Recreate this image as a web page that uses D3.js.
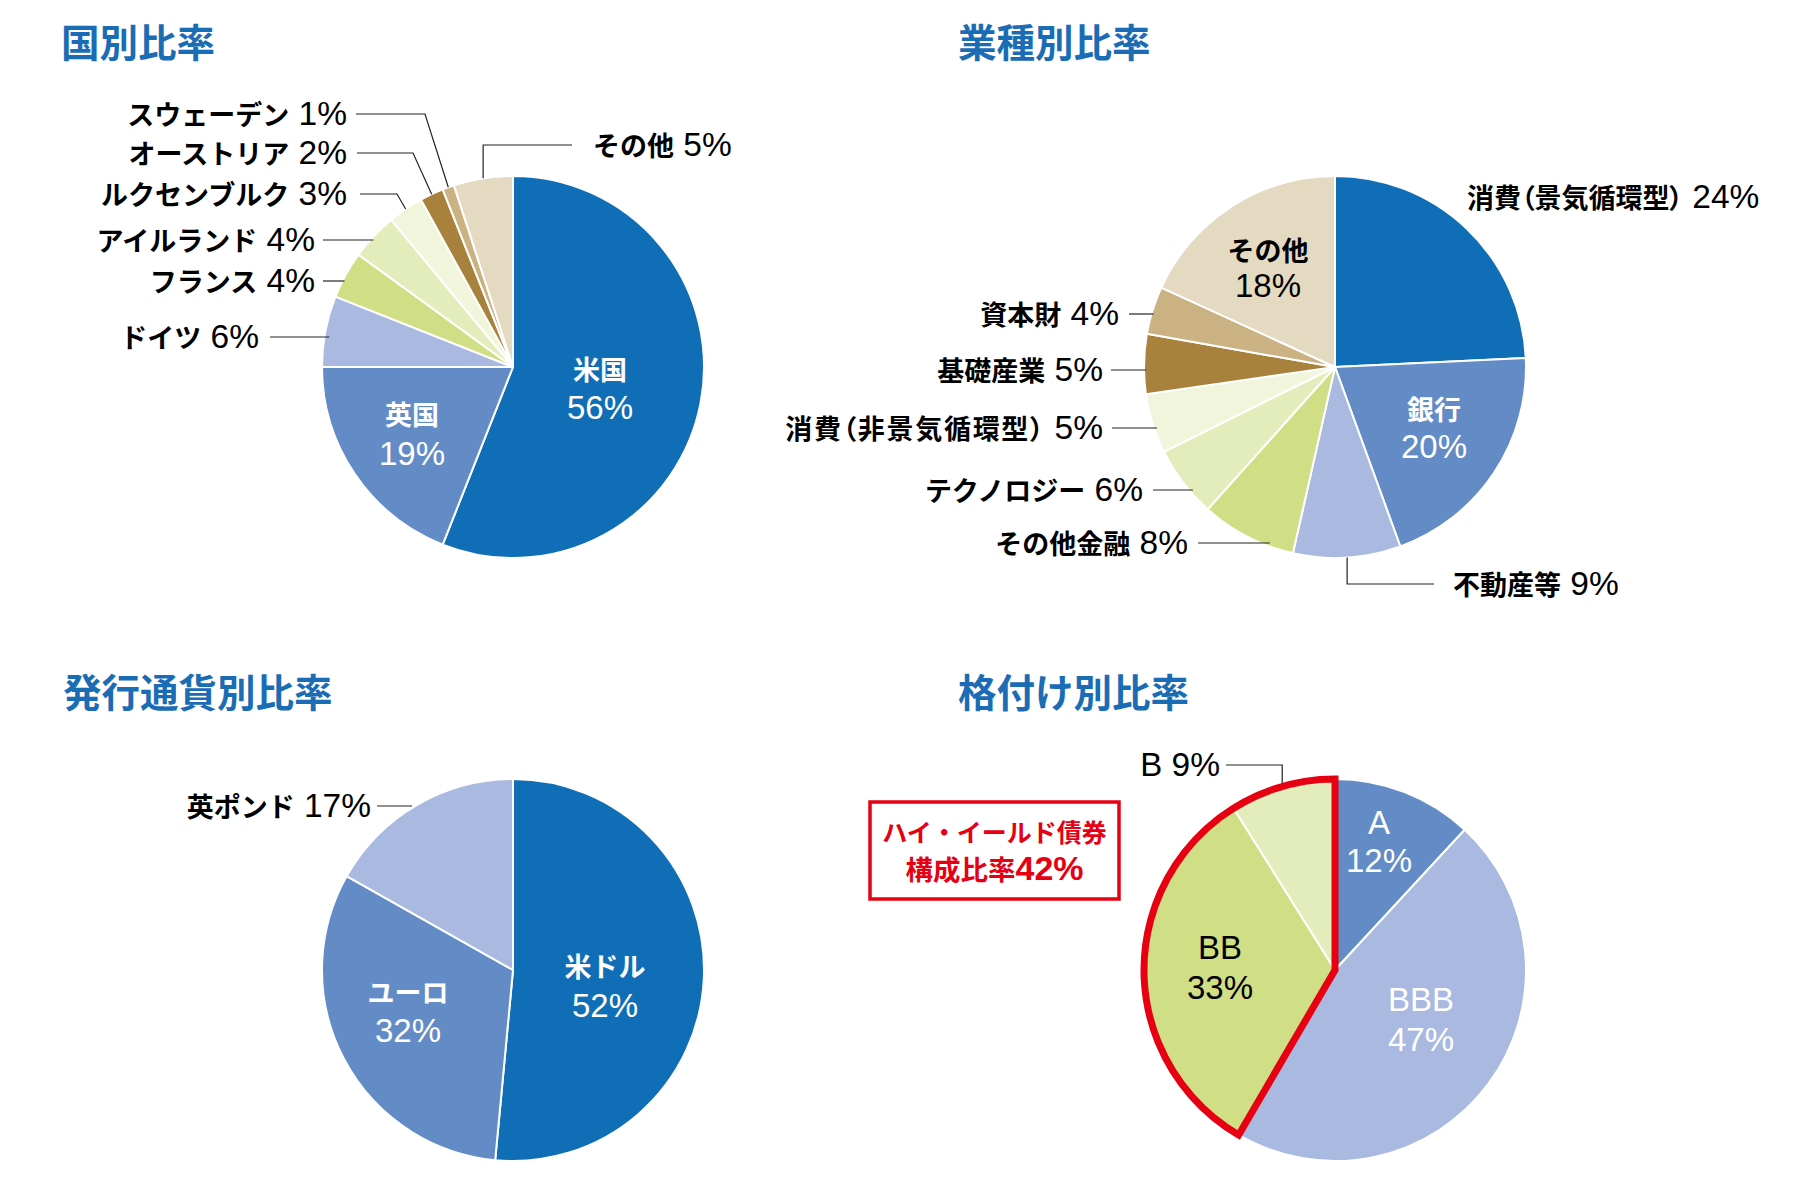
<!DOCTYPE html>
<html lang="ja">
<head>
<meta charset="utf-8">
<script src="https://cdn.jsdelivr.net/npm/d3@7"></script>
<style>
  body { margin: 0; background: #fff; }
  text { font-family: "Liberation Sans", "Noto Sans CJK JP", sans-serif; }
</style>
</head>
<body>
<svg id="chart"></svg>
<script>
// 国別比率
const countryNames = ['米国', '英国', 'ドイツ', 'フランス', 'アイルランド', 'ルクセンブルク', 'オーストリア', 'スウェーデン', 'その他']
const countryValues = [56, 19, 6, 4, 4, 3, 2, 1, 5]

// 業種別比率
const sectorNames = ['消費（景気循環型）', '銀行', '不動産等', 'その他金融', 'テクノロジー', '消費（非景気循環型）', '基礎産業', '資本財', 'その他']
const sectorValues = [24, 20, 9, 8, 6, 5, 5, 4, 18]

// 発行通貨別比率
const currencyNames = ['米ドル', 'ユーロ', '英ポンド']
const currencyValues = [52, 32, 17]

// 格付け別比率
const ratingNames = ['A', 'BBB', 'BB', 'B']
const ratingValues = [12, 47, 33, 9]
const highYieldRatings = ['BB', 'B']
const highYieldShare = 42

const titles = ['国別比率', '業種別比率', '発行通貨別比率', '格付け別比率']

const d3 = window.d3

let width = 1820
let height = 1182
let radius = 191

let blue = '#106eb6'
let midBlue = '#638cc7'
let lavender = '#a9b9e0'
let green = '#d0df85'
let lightGreen = '#e3edbb'
let paleGreen = '#f1f5dc'
let brown = '#a8823c'
let tan = '#cbb283'
let beige = '#e4d9c1'
let red = '#e60012'
let titleBlue = '#1a6db5'

let palette9 = [blue, midBlue, lavender, green, lightGreen, paleGreen, brown, tan, beige]

let svg = d3.select('#chart')
    .attr('width', width)
    .attr('height', height)

svg.append('rect')
    .attr('width', width)
    .attr('height', height)
    .attr('fill', '#fff')

let pie = d3.pie()
            .sort(null)
            .value(d => d.value)

let arc = d3.arc()
            .innerRadius(0)
            .outerRadius(radius)

let line = d3.line()

// label layout, relative to each pie centre
let pies = [
  {
    title: titles[0], titleX: 61, titleY: 57,
    cx: 513, cy: 367,
    names: countryNames, values: countryValues, colors: palette9,
    labels: [
      { i: 0, inside: true, dx: 87, dy: [2, 40], fill: '#fff' },
      { i: 1, inside: true, dx: -101, dy: [47, 86], fill: '#fff' },
      { i: 2, tx: -254, ty: -30, lineX: -243, gap: 5 },
      { i: 3, tx: -198, ty: -86, lineX: -190, gap: 2 },
      { i: 4, tx: -198, ty: -127, lineX: -190, gap: 3 },
      { i: 5, tx: -166, ty: -173, lineX: -153, elbow: -116 },
      { i: 6, tx: -166, ty: -214, lineX: -156, elbow: -100 },
      { i: 7, tx: -166, ty: -253, lineX: -157, elbow: -88 },
      { i: 8, tx: 80, ty: -222, lineX: 59, elbow: 'v', anchor: 'start' }
    ]
  },
  {
    title: titles[1], titleX: 958, titleY: 57,
    cx: 1335, cy: 367,
    names: sectorNames, values: sectorValues, colors: palette9,
    labels: [
      { i: 0, tx: 132, ty: -170, anchor: 'start' },
      { i: 1, inside: true, dx: 99, dy: [42, 79], fill: '#fff' },
      { i: 2, tx: 118, ty: 217, lineX: 99, elbow: 'v', anchor: 'start' },
      { i: 3, tx: -147, ty: 176, lineX: -137, gap: 9 },
      { i: 4, tx: -192, ty: 123, lineX: -182, gap: 4 },
      { i: 5, tx: -232, ty: 61, lineX: -223, gap: 3, spacing: 1.7 },
      { i: 6, tx: -232, ty: 3, lineX: -224, gap: 2 },
      { i: 7, tx: -216, ty: -53, lineX: -206, gap: 2 },
      { i: 8, inside: true, dx: -67, dy: [-117, -82], fill: '#000' }
    ]
  },
  {
    title: titles[2], titleX: 63, titleY: 707,
    cx: 513, cy: 970,
    names: currencyNames, values: currencyValues, colors: [blue, midBlue, lavender],
    labels: [
      { i: 0, inside: true, dx: 92, dy: [-4, 35], fill: '#fff' },
      { i: 1, inside: true, dx: -105, dy: [22, 60], fill: '#fff' },
      { i: 2, tx: -142, ty: -164, lineX: -136, gap: -3 }
    ]
  },
  {
    title: titles[3], titleX: 958, titleY: 707,
    cx: 1335, cy: 970,
    names: ratingNames, values: ratingValues, colors: [midBlue, lavender, green, lightGreen],
    labels: [
      { i: 0, inside: true, dx: 44, dy: [-147, -110], fill: '#fff' },
      { i: 1, inside: true, dx: 86, dy: [30, 69], fill: '#fff' },
      { i: 2, inside: true, dx: -115, dy: [-22, 17], fill: '#000' },
      { i: 3, tx: -115, ty: -205, lineX: -109, elbow: 'v' }
    ]
  }
]

// latin rating letters are drawn like the digits, japanese names bold
function styleName(sel, name) {
  let latin = /^[A-Z]+$/.test(name)
  sel.style('font-size', latin ? '33px' : '27px')
     .style('font-weight', latin ? 'normal' : 'bold')
  // full-width brackets set narrow, as in the original
  if (/[（）]/.test(name)) sel.style('font-feature-settings', '"palt"')
  return sel
}

function drawPie(p) {
  let rows = p.names.map((name, i) => ({ name: name, value: p.values[i], color: p.colors[i] }))
  let arcs = pie(rows)

  svg.append('text')
      .attr('x', p.titleX)
      .attr('y', p.titleY)
      .attr('fill', titleBlue)
      .style('font-family', '"Noto Sans CJK JP", sans-serif')
      .style('font-weight', 'bold')
      .style('font-size', '38.5px')
      .text(p.title)

  let g = svg.append('g')
      .attr('transform', `translate(${p.cx}, ${p.cy})`)

  g.selectAll('path.slice')
    .data(arcs)
    .enter()
    .append('path')
      .attr('class', 'slice')
      .attr('d', arc)
      .attr('fill', d => d.data.color)
      .attr('stroke', '#fff')
      .attr('stroke-width', 2)
      .attr('stroke-linejoin', 'round')

  p.labels.forEach(l => {
    let a = arcs[l.i]
    let mid = (a.startAngle + a.endAngle) / 2
    let edge = [radius * Math.sin(mid), -radius * Math.cos(mid)]

    if (l.inside) {
      let t = g.append('text')
          .attr('text-anchor', 'middle')
          .attr('fill', l.fill)
      t.append('tspan')
          .attr('x', l.dx)
          .attr('y', l.dy[0] + 11)
          .call(styleName, a.data.name)
          .text(a.data.name)
      t.append('tspan')
          .attr('x', l.dx)
          .attr('y', l.dy[1] + 12)
          .style('font-size', '33px')
          .text(a.data.value + '%')
      return
    }

    // leader line
    let pts = null
    if (l.elbow === 'v') {
      pts = [edge, [edge[0], l.ty], [l.lineX, l.ty]]
    } else if (typeof l.elbow === 'number') {
      pts = [edge, [l.elbow, l.ty], [l.lineX, l.ty]]
    } else if (l.gap !== undefined) {
      let side = Math.sign(edge[0])
      let x0 = side * Math.sqrt(radius * radius - l.ty * l.ty) - side * l.gap
      pts = [[x0, l.ty], [l.lineX, l.ty]]
    }
    if (pts) {
      g.append('path')
          .attr('d', line(pts))
          .attr('fill', 'none')
          .attr('stroke', '#222')
          .attr('stroke-width', 1.2)
    }

    let t = g.append('text')
        .attr('x', l.tx)
        .attr('y', l.ty + 11)
        .attr('text-anchor', l.anchor || 'end')
        .attr('fill', '#000')
    let nameSpan = t.append('tspan')
        .call(styleName, a.data.name)
        .text(a.data.name)
    if (l.spacing) nameSpan.style('letter-spacing', l.spacing + 'px')
    t.append('tspan')
        .style('font-size', '33.5px')
        .style('font-weight', 'normal')
        .style('letter-spacing', '0px')
        .text(' ' + a.data.value + '%')
  })

  return { g: g, arcs: arcs }
}

let drawn = pies.map(drawPie)

// high-yield outline on the rating pie
let ratingArcs = drawn[3].arcs.filter(d => highYieldRatings.includes(d.data.name))
let hy = {
  startAngle: d3.min(ratingArcs, d => d.startAngle),
  endAngle: d3.max(ratingArcs, d => d.endAngle)
}
drawn[3].g.append('path')
    .attr('d', arc(hy))
    .attr('fill', 'none')
    .attr('stroke', red)
    .attr('stroke-width', 7)
    .attr('stroke-linejoin', 'miter')

// high-yield box
let box = svg.append('g')
    .attr('transform', 'translate(870, 802)')
box.append('rect')
    .attr('width', 249)
    .attr('height', 97)
    .attr('fill', '#fff')
    .attr('stroke', red)
    .attr('stroke-width', 3.5)
let boxText = box.append('text')
    .attr('text-anchor', 'middle')
    .attr('fill', red)
    .style('font-weight', 'bold')
boxText.append('tspan')
    .attr('x', 124.5)
    .attr('y', 40)
    .style('font-size', '25px')
    .text('ハイ・イールド債券')
let line2 = boxText.append('tspan')
    .attr('x', 124.5)
    .attr('y', 78)
line2.append('tspan')
    .style('font-size', '27.5px')
    .text('構成比率')
line2.append('tspan')
    .style('font-size', '34px')
    .text(highYieldShare + '%')
</script>
</body>
</html>
